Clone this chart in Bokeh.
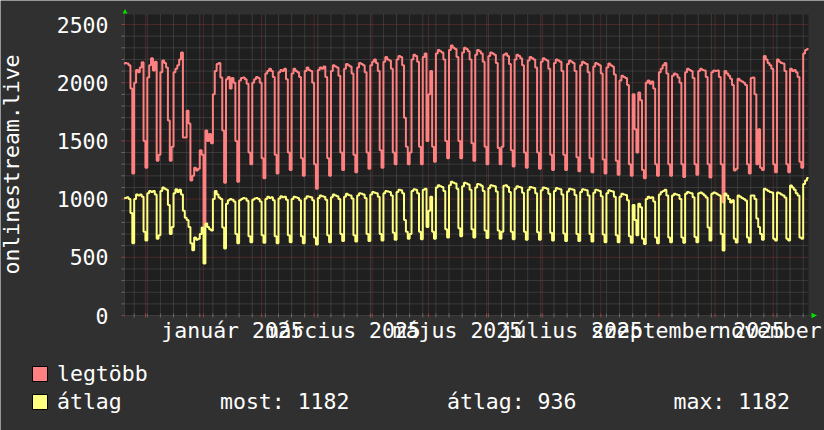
import math
import datetime as dt
from bokeh.plotting import figure
from bokeh.models import Range1d
from bokeh.core.properties import value
from bokeh.embed import file_html
from bokeh.resources import INLINE

# ---------------- data (daily values, weeks Mon..Sun, first day 2024-11-18) -------------
first_day = "2024-11-18"
window_start = "2024-11-19 20:00"
window_end = "2025-11-19 20:00"

legtobb_weeks = [
    [2150, 2160, 2170, 2165, 2150, 1950, 1220],
    [2000, 2110, 2090, 2130, 2175, 1500, 1270],
    [2045, 2150, 2210, 2105, 2180, 1330, 1380],
    [2090, 2190, 2170, 2130, 1675, 1330, 1450],
    [2090, 2120, 2150, 2200, 2260, 1530, 1530],
    [1760, 1650, 1160, 1200, 1270, 1245, 1260],
    [1420, 1380, 770, 1590, 1500, 1560, 1480],
    [1900, 2100, 2160, 2170, 2045, 1590, 1140],
    [2030, 2050, 1950, 2040, 2000, 1500, 1150],
    [2020, 2040, 2045, 2030, 1990, 1400, 1300],
    [2000, 2030, 2050, 2040, 2000, 1350, 1180],
    [2080, 2100, 2120, 2100, 2050, 1380, 1220],
    [2090, 2110, 2100, 2120, 2030, 1400, 1250],
    [2080, 2120, 2100, 2090, 2050, 1350, 1200],
    [2100, 2130, 2110, 2100, 2000, 1300, 1090],
    [2110, 2130, 2120, 2140, 2050, 1350, 1200],
    [2100, 2150, 2140, 2130, 2060, 1400, 1250],
    [2120, 2160, 2150, 2140, 2080, 1380, 1230],
    [2130, 2170, 2160, 2150, 2090, 1400, 1260],
    [2150, 2180, 2200, 2170, 2100, 1420, 1270],
    [2180, 2220, 2200, 2190, 2120, 1400, 1300],
    [2200, 2230, 2220, 2150, 1700, 1450, 1300],
    [1400, 2200, 2240, 2230, 2180, 1450, 1300],
    [2220, 2250, 1500, 1900, 2100, 1450, 1320],
    [2250, 2280, 2270, 2260, 2200, 1500, 1350],
    [2280, 2320, 2300, 2290, 2220, 1500, 1350],
    [2260, 2300, 2290, 2270, 2200, 1480, 1330],
    [2240, 2280, 2270, 2250, 2180, 1450, 1300],
    [2230, 2260, 2250, 2240, 2170, 1440, 1300],
    [1450, 2240, 2250, 2230, 2160, 1420, 1280],
    [2200, 2240, 2230, 2210, 2150, 1400, 1270],
    [2190, 2220, 2210, 2200, 2130, 1400, 1260],
    [2180, 2210, 2200, 2190, 2120, 1380, 1250],
    [2170, 2200, 2190, 2180, 2100, 1380, 1250],
    [2160, 2190, 2180, 2170, 2100, 1360, 1240],
    [2150, 2180, 2170, 2160, 2090, 1350, 1230],
    [2140, 2170, 2160, 2150, 2080, 1340, 1220],
    [2130, 2165, 2150, 2140, 2070, 1330, 1210],
    [2020, 2060, 2050, 2040, 1980, 1300, 1200],
    [1900, 1600, 1400, 1915, 1850, 1250, 1180],
    [2000, 2020, 1990, 2010, 1950, 1300, 1200],
    [2090, 2120, 2150, 2170, 2080, 1300, 1200],
    [2060, 2080, 2070, 2045, 2000, 1300, 1190],
    [2090, 2120, 2110, 2100, 2040, 1300, 1210],
    [2100, 2120, 2110, 2105, 2050, 1300, 1185],
    [2090, 2105, 2100, 2105, 2050, 1300, 970],
    [2100, 2080, 2060, 2035, 1980, 1245, 1260],
    [2035, 2020, 2010, 2000, 1980, 1300, 1220],
    [2040, 2045, 1900, 1300, 1600, 1270, 1250],
    [2230, 2200, 2170, 2150, 2120, 1300, 1230],
    [2200, 2180, 2170, 2165, 2100, 1300, 1230],
    [2120, 2100, 2110, 2090, 2050, 1320, 1270],
    [2250, 2280, 2290],
]

atlag_weeks = [
    [1000, 1005, 1010, 1015, 1000, 880, 620],
    [1000, 1040, 1030, 1040, 1020, 720, 644],
    [1050, 1070, 1060, 1070, 1040, 660, 690],
    [1070, 1100, 1090, 1080, 950, 700, 760],
    [1050, 1085, 1060, 1080, 1040, 900, 840],
    [820, 760, 620, 560, 670, 650, 660],
    [700, 756, 447, 790, 760, 740, 730],
    [1000, 1070, 1040, 1013, 1000, 756, 575],
    [960, 990, 1000, 995, 980, 700, 620],
    [990, 1000, 1010, 1005, 985, 680, 630],
    [995, 1005, 1010, 1000, 980, 690, 625],
    [1000, 1020, 1010, 1015, 990, 680, 620],
    [1005, 1025, 1015, 1020, 995, 690, 630],
    [1000, 1020, 1015, 1010, 990, 680, 620],
    [1005, 1025, 1020, 1015, 990, 670, 610],
    [1010, 1030, 1025, 1020, 995, 690, 630],
    [1015, 1040, 1030, 1025, 1000, 700, 640],
    [1020, 1045, 1035, 1030, 1005, 690, 635],
    [1030, 1050, 1045, 1040, 1010, 700, 640],
    [1040, 1060, 1055, 1050, 1020, 700, 645],
    [1050, 1070, 1065, 1060, 1030, 710, 650],
    [1060, 1080, 1075, 1050, 820, 720, 660],
    [700, 1070, 1085, 1080, 1050, 720, 655],
    [1080, 1090, 760, 900, 1020, 720, 660],
    [1100, 1120, 1110, 1105, 1070, 740, 670],
    [1120, 1150, 1140, 1135, 1090, 750, 680],
    [1110, 1140, 1135, 1125, 1080, 740, 670],
    [1100, 1130, 1125, 1115, 1070, 730, 665],
    [1095, 1120, 1115, 1110, 1065, 730, 660],
    [720, 1115, 1120, 1105, 1060, 720, 655],
    [1090, 1110, 1105, 1100, 1055, 720, 650],
    [1080, 1105, 1100, 1095, 1050, 715, 650],
    [1075, 1100, 1095, 1090, 1045, 710, 645],
    [1070, 1095, 1090, 1085, 1040, 705, 640],
    [1065, 1090, 1085, 1080, 1035, 700, 640],
    [1060, 1085, 1080, 1075, 1030, 700, 635],
    [1055, 1080, 1075, 1070, 1025, 695, 630],
    [1050, 1075, 1070, 1065, 1020, 690, 630],
    [1020, 1045, 1040, 1035, 990, 680, 625],
    [950, 820, 690, 960, 930, 660, 615],
    [1000, 1020, 1010, 1015, 980, 670, 620],
    [1040, 1060, 1070, 1080, 1030, 670, 630],
    [1030, 1045, 1040, 1035, 1000, 670, 625],
    [1045, 1060, 1055, 1050, 1015, 675, 630],
    [1050, 1057, 1045, 1030, 1013, 756, 644],
    [1045, 1057, 1050, 1040, 1030, 700, 558],
    [1048, 1030, 1000, 970, 990, 660, 627],
    [1030, 1020, 1010, 1000, 988, 670, 627],
    [1030, 1030, 1000, 833, 760, 700, 650],
    [1090, 1080, 1070, 1060, 1057, 660, 644],
    [1057, 1050, 1040, 1030, 1013, 660, 644],
    [1117, 1100, 1080, 1050, 1030, 670, 660],
    [1130, 1160, 1182],
]

y_ticks = [0, 500, 1000, 1500, 2000, 2500]
y_tick_labels = ["0", "500", "1000", "1500", "2000", "2500"]
y_minor_ticks = [v for v in range(100, 2600, 100) if v % 500 != 0]
y_top = 2586
month_starts = ["2024-12-01", "2025-01-01", "2025-02-01", "2025-03-01", "2025-04-01",
                "2025-05-01", "2025-06-01", "2025-07-01", "2025-08-01", "2025-09-01",
                "2025-10-01", "2025-11-01"]
month_labels = ["január 2025", "március 2025", "május 2025", "július 2025",
                "szeptember 2025", "november 2025"]
month_label_starts = ["2025-01-01", "2025-03-01", "2025-05-01", "2025-07-01",
                      "2025-09-01", "2025-11-01"]
axis_title = "onlinestream.live"
legend_names = ["legtöbb", "átlag"]
stat_texts = ["most: 1182", "átlag: 936", "max: 1182"]

# ---------------- helpers -------------
EPOCH = dt.datetime(1970, 1, 1)
DAY = 86400000.0


def ms(s):
    return (dt.datetime.fromisoformat(s) - EPOCH).total_seconds() * 1000.0


x0, x1 = ms(window_start), ms(window_end)
legtobb = [v for w in legtobb_weeks for v in w]
atlag = [v for w in atlag_weeks for v in w]
d0 = ms(first_day)
day_x = [d0 + i * DAY for i in range(len(legtobb))]


def clip_steps(vals):
    """Step series limited to the visible window [x0, x1]."""
    xs, ys = [], []
    for i, xv in enumerate(day_x):
        if xv + DAY <= x0:
            continue
        xs.append(max(xv, x0))
        ys.append(vals[i])
    xs.append(x1)
    ys.append(ys[-1])
    return xs, ys


red_x, red_y = clip_steps(legtobb)
yel_x, yel_y = clip_steps(atlag)

month_ms = [ms(m) for m in month_starts]
monday_ms = []
t = ms("2024-11-25")
while t < x1:
    if t not in month_ms:
        monday_ms.append(t)
    t += 7 * DAY
label_pos = [ms(m) + 15.5 * DAY for m in month_label_starts]

# ---------------- geometry (page pixels) -------------
PAGE_W, PAGE_H = 824, 430
PLOT_L, PLOT_R = 124, 808
PLOT_T, ZERO_PX = 14, 315
PX_PER_UNIT = (ZERO_PX - PLOT_T) / y_top
TXT = 7.8   # text anchor sits at mid-height of the glyphs in this renderer


def xd(px):
    return x0 + (px - PLOT_L) * (x1 - x0) / (PLOT_R - PLOT_L)


def yd(py):
    return (ZERO_PX - py) / PX_PER_UNIT


def up(px):
    return px / PX_PER_UNIT


BG = "#303030"
CANVAS = "#1f1f1f"
MAJOR_GRID = "#7a3434"
MINOR_GRID = "#555555"
MAJOR_TICK = "#a04040"
MINOR_TICK = "#6a6a6a"
AXIS_COL = "#3c3c3c"
GREEN = "#00e000"
RED = "#ff8080"
YEL = "#ffff80"
FONT = "DejaVu Sans Mono"
FS = "21.5px"
WHITE = "#ffffff"

p = figure(width=PAGE_W, height=PAGE_H, output_backend="svg", toolbar_location=None,
           x_range=Range1d(xd(0), xd(PAGE_W)), y_range=Range1d(yd(PAGE_H), yd(0)),
           x_axis_location=None, y_axis_location=None, min_border=0, title=None,
           background_fill_color=BG, border_fill_color=BG, outline_line_color=None)
p.grid.visible = False

# plot area
p.quad(left=[x0], right=[x1], bottom=[0], top=[y_top], fill_color=CANVAS, line_color=None)

# grid
nm, nw, nym = len(month_ms), len(monday_ms), len(y_minor_ticks)
maj = y_ticks[1:]
p.segment(x0=monday_ms, y0=[0] * nw, x1=monday_ms, y1=[y_top] * nw,
          line_color=MINOR_GRID, line_dash="1 1", line_width=1)
p.segment(x0=[x0] * nym, y0=y_minor_ticks, x1=[x1] * nym, y1=y_minor_ticks,
          line_color=MINOR_GRID, line_dash="1 1", line_width=1)
p.segment(x0=month_ms, y0=[0] * nm, x1=month_ms, y1=[y_top] * nm,
          line_color=MAJOR_GRID, line_dash="1 1", line_width=1)
p.segment(x0=[x0] * len(maj), y0=maj, x1=[x1] * len(maj), y1=maj,
          line_color=MAJOR_GRID, line_dash="1 1", line_width=1)

# axes lines, ticks, arrows
p.segment(x0=[x0, x0], y0=[0, -up(3)], x1=[xd(811), x0], y1=[0, yd(12)],
          line_color=AXIS_COL, line_width=1)
p.segment(x0=monday_ms, y0=[-up(2)] * nw, x1=monday_ms, y1=[up(2)] * nw,
          line_color=MINOR_TICK, line_width=1)
p.segment(x0=month_ms, y0=[-up(2)] * nm, x1=month_ms, y1=[up(2)] * nm,
          line_color=MAJOR_TICK, line_width=1)
p.segment(x0=[xd(121)] * nym, y0=y_minor_ticks, x1=[x0] * nym, y1=y_minor_ticks,
          line_color=MINOR_TICK, line_width=1)
p.segment(x0=[xd(121)] * len(y_ticks), y0=y_ticks, x1=[x0] * len(y_ticks), y1=y_ticks,
          line_color=MAJOR_TICK, line_width=1)
p.patches(xs=[[xd(122), xd(124.5), xd(127)], [xd(811), xd(816.5), xd(811)]],
          ys=[[yd(13), yd(8.5), yd(13)], [yd(312.3), yd(315), yd(317.7)]],
          fill_color=GREEN, line_color=None)

# data lines
p.step(red_x, red_y, mode="after", line_color=RED, line_width=2)
p.step(yel_x, yel_y, mode="after", line_color=YEL, line_width=2)

text_kw = dict(text_font=value(FONT), text_font_size=value(FS), text_color=WHITE,
               text_baseline="alphabetic")

# y tick labels at the tick values
p.text(x=[xd(108)] * len(y_ticks), y=y_ticks, text=y_tick_labels,
       text_align="right", **text_kw)

# month labels at mid-month positions
p.text(x=label_pos, y=[yd(338 - TXT)] * len(label_pos), text=month_labels,
       text_align="center", **text_kw)

# vertical title
p.text(x=[xd(19 - TXT)], y=[yd(164)], text=[axis_title], angle=math.pi / 2,
       text_align="center", **text_kw)

# legend
p.quad(left=[xd(32)] * 2, right=[xd(47)] * 2, top=[yd(366), yd(394)],
       bottom=[yd(381), yd(409)], fill_color=[RED, YEL], line_color="#000000", line_width=1)
p.text(x=[xd(56.5)] * 2, y=[yd(381 - TXT), yd(409 - TXT)], text=legend_names,
       text_align="left", **text_kw)
p.text(x=[xd(219.5), xd(446.5), xd(673)], y=[yd(409 - TXT)] * 3, text=stat_texts,
       text_align="left", **text_kw)

open("out.html", "w").write(file_html(p, INLINE))
